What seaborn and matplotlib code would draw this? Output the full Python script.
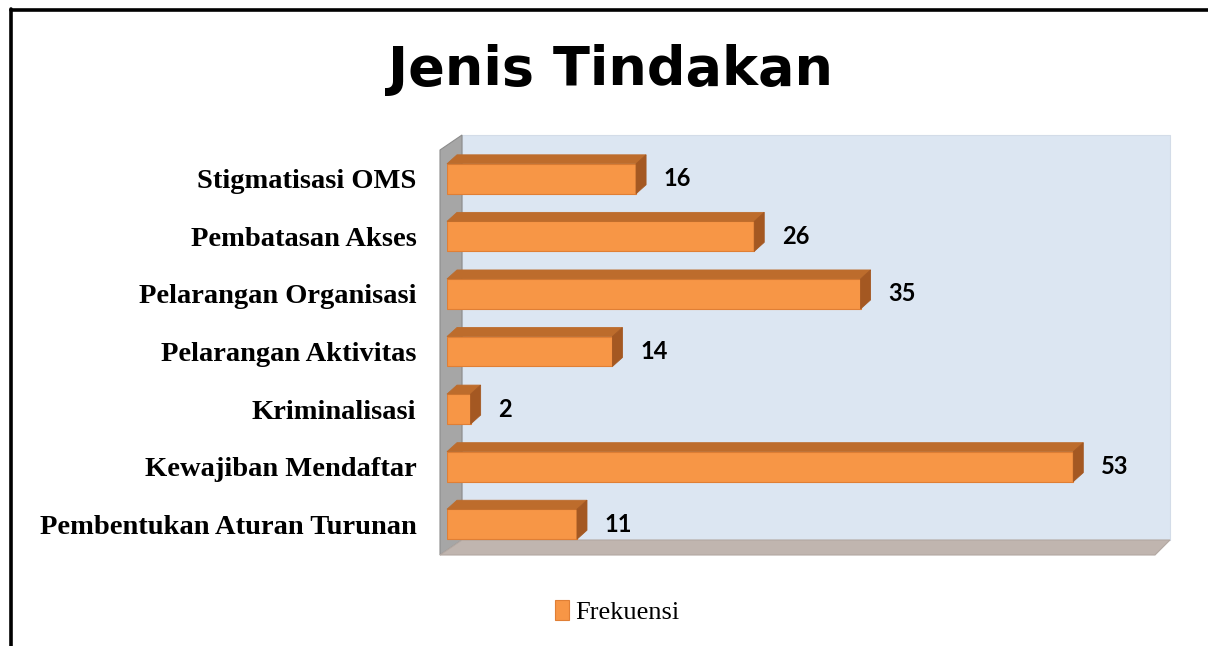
import numpy as np
import pandas as pd
import matplotlib
matplotlib.use("Agg")
import matplotlib.pyplot as plt
import seaborn as sns
from matplotlib.patches import Polygon
from matplotlib.lines import Line2D

# data
kategori = [
    "Stigmatisasi OMS",
    "Pembatasan Akses",
    "Pelarangan Organisasi",
    "Pelarangan Aktivitas",
    "Kriminalisasi",
    "Kewajiban Mendaftar",
    "Pembentukan Aturan Turunan",
]
frekuensi = [16, 26, 35, 14, 2, 53, 11]
seri = "Frekuensi"
judul = "Jenis Tindakan"

W, H = 1208, 646
DPI = 100

ORANGE = "#f79646"
ORANGE_EDGE = "#e07f35"
ORANGE_TOP = "#bd6c2c"
ORANGE_SIDE = "#a45822"

sns.set_theme(style="white")
plt.rcParams["font.family"] = ["DejaVu Sans"]

df = pd.DataFrame({"kategori": kategori, "nilai": frekuensi, "seri": seri})

fig = plt.figure(figsize=(W / DPI, H / DPI), dpi=DPI)


def fpx(x, y):
    # pixel (from top-left) -> figure fraction
    return (x / W, 1 - y / H)


# chart walls (back wall, left wall, floor)
back = Polygon([fpx(462, 135), fpx(1170, 135), fpx(1170, 540), fpx(462, 540)],
               closed=True, transform=fig.transFigure, facecolor="#dce6f2",
               edgecolor="#d3dce8", lw=0.8, zorder=-2)
left = Polygon([fpx(440, 555), fpx(440, 150), fpx(462, 135), fpx(462, 540)],
               closed=True, transform=fig.transFigure, facecolor="#a6a6a6",
               edgecolor="#8c8c8c", lw=0.8, zorder=-1)
floor = Polygon([fpx(440, 555), fpx(1155, 555), fpx(1170, 540), fpx(462, 540)],
                closed=True, transform=fig.transFigure, facecolor="#c0b5af",
                edgecolor="#b3a8a2", lw=0.8, zorder=-1)
for p in (back, left, floor):
    fig.patches.append(p)

# frame lines
fig.lines.append(Line2D([11 / W, 11 / W], [0, 1 - 9 / H], transform=fig.transFigure,
                        color="black", lw=2.6))
fig.lines.append(Line2D([11 / W, 1], [1 - 10 / H, 1 - 10 / H], transform=fig.transFigure,
                        color="black", lw=2.6))

ax = fig.add_axes([447 / W, 1 - 553 / H, (1156 - 447) / W, (553 - 150) / H])
ax.patch.set_visible(False)

sns.barplot(data=df, y="kategori", x="nilai", hue="seri", palette={seri: ORANGE},
            orient="h", width=0.52, edgecolor=ORANGE_EDGE, linewidth=0.8,
            saturation=1, ax=ax)
ax.set_xlim(0, 60)
ax.set_ylim(len(kategori) - 0.5, -0.5)

# 3d faces of bars
dx, dy = 10, 9
to_data = ax.transData.inverted()
for bar in ax.containers[0]:
    x0, y0 = bar.get_x(), bar.get_y()
    x1, y1 = x0 + bar.get_width(), y0 + bar.get_height()
    (px0, pyb), (px1, pyt) = ax.transData.transform([(x0, max(y0, y1)), (x1, min(y0, y1))])
    top = [(px0, pyt), (px1, pyt), (px1 + dx, pyt + dy), (px0 + dx, pyt + dy)]
    side = [(px1, pyb), (px1, pyt), (px1 + dx, pyt + dy), (px1 + dx, pyb + dy)]
    ax.add_patch(Polygon(to_data.transform(top), closed=True, facecolor=ORANGE_TOP,
                         edgecolor=ORANGE_TOP, lw=0.6, clip_on=False))
    ax.add_patch(Polygon(to_data.transform(side), closed=True, facecolor=ORANGE_SIDE,
                         edgecolor=ORANGE_SIDE, lw=0.6, clip_on=False))

ax.bar_label(ax.containers[0], padding=20, fontsize=17, fontweight="bold",
             family="Lato", color="black")

ax.set_xlabel("")
ax.set_ylabel("")
ax.set_xticks([])
ax.tick_params(axis="y", length=0, pad=22)
for lab in ax.get_yticklabels():
    lab.set_fontfamily("Liberation Serif")
    lab.set_fontweight("bold")
    lab.set_fontsize(20.5)
    lab.set_color("black")
sns.despine(ax=ax, left=True, bottom=True)

ax.legend(loc="center", bbox_to_anchor=(617 / W, 1 - 612 / H), bbox_transform=fig.transFigure,
          frameon=False, handlelength=0.55, handleheight=0.8, handletextpad=0.2,
          labelcolor="black", prop={"family": "Liberation Serif", "size": 19})

fig.text(611 / W, 1 - 85 / H, judul, ha="center", va="baseline",
         fontsize=39, fontweight="bold", family="DejaVu Sans", color="black")

fig.savefig("out.png", dpi=DPI, facecolor="white")
